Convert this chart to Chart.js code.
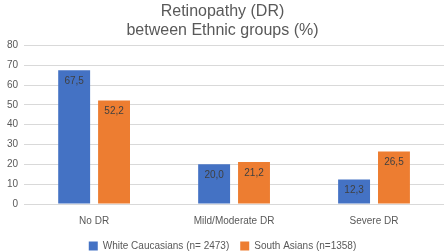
<!DOCTYPE html>
<html>
<head>
<meta charset="utf-8">
<script src="https://cdn.jsdelivr.net/npm/chart.js@4/dist/chart.umd.min.js"></script>
<style>
  html, body { margin: 0; padding: 0; background: #fff; }
  #wrap { width: 445px; height: 251px; }
</style>
</head>
<body>
<div id="wrap"><canvas id="barChart"></canvas></div>
<script>
const categories = ['No DR', 'Mild/Moderate DR', 'Severe DR'];
const whiteValues = [67.5, 20.0, 12.3];
const asianValues = [52.2, 21.2, 26.5];
const seriesNames = ['White Caucasians (n= 2473)', 'South Asians (n=1358)'];
const yTicks = [0, 10, 20, 30, 40, 50, 60, 70, 80];

const fontFam = '"Liberation Sans", Arial, sans-serif';

// draws the value inside the top of each bar (decimal comma)
const valueLabels = {
  id: 'valueLabels',
  afterDatasetsDraw(chart) {
    const ctx = chart.ctx;
    ctx.save();
    ctx.font = '10px ' + fontFam;
    ctx.fillStyle = '#404040';
    ctx.textAlign = 'center';
    ctx.textBaseline = 'top';
    chart.data.datasets.forEach((ds, i) => {
      chart.getDatasetMeta(i).data.forEach((bar, j) => {
        let txt = ds.data[j].toFixed(1).replace('.', ',');
        ctx.fillText(txt, bar.x, bar.y + 6);
      });
    });
    ctx.restore();
  }
};

let ctx = document.getElementById('barChart').getContext('2d');
let barChart = new Chart(ctx, {
  type: 'bar',
  data: {
    labels: categories,
    datasets: [{
      label: seriesNames[0],
      data: whiteValues,
      backgroundColor: '#4472c4'
    }, {
      label: seriesNames[1],
      data: asianValues,
      backgroundColor: '#ed7d31'
    }]
  },
  options: {
    responsive: true,
    maintainAspectRatio: false,
    animation: false,
    layout: { padding: { left: 1, right: 1, top: 2, bottom: -10 } },
    datasets: { bar: { categoryPercentage: 0.57, barPercentage: 0.8 } },
    plugins: {
      title: {
        display: true,
        text: ['Retinopathy (DR)', 'between Ethnic groups (%)'],
        color: '#595959',
        font: { family: fontFam, size: 16, weight: 'normal' },
        lineHeight: 1.35,
        padding: { top: 0, bottom: 5 }
      },
      legend: {
        position: 'bottom',
        labels: {
          color: '#595959',
          font: { family: fontFam, size: 10 },
          boxWidth: 9,
          boxHeight: 9,
          padding: 11
        }
      },
      tooltip: { enabled: false }
    },
    scales: {
      x: {
        grid: { display: false },
        border: { display: false },
        ticks: { color: '#595959', font: { family: fontFam, size: 10 }, padding: 3 }
      },
      y: {
        min: 0,
        max: 80,
        afterBuildTicks(axis) { axis.ticks = yTicks.map(v => ({ value: v })); },
        grid: { color: '#d9d9d9', drawTicks: false },
        border: { display: false },
        ticks: { color: '#595959', font: { family: fontFam, size: 10 }, padding: 6 }
      }
    }
  },
  plugins: [valueLabels]
});
</script>
</body>
</html>
